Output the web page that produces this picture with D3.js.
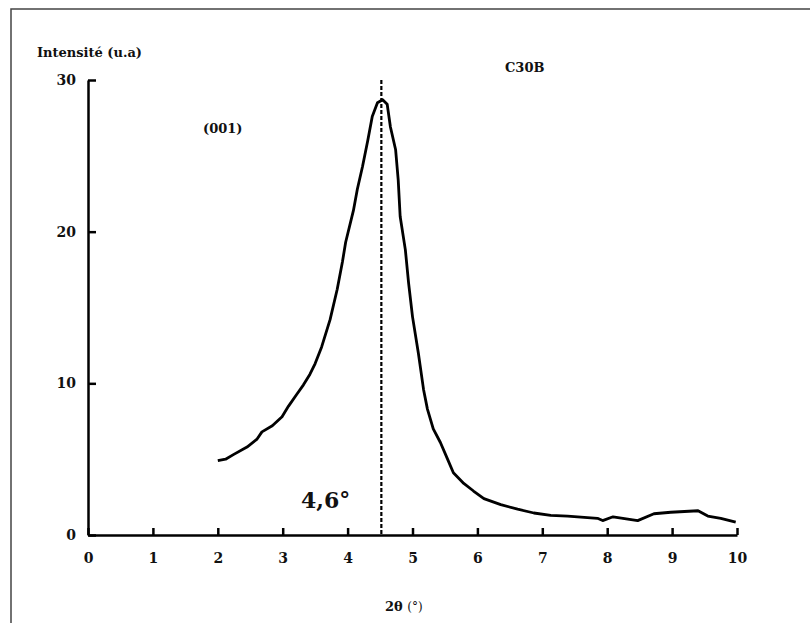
<!DOCTYPE html>
<html>
<head>
<meta charset="utf-8">
<script src="https://cdn.jsdelivr.net/npm/d3@7"></script>
<style>
  body { margin: 0; background: #fff; }
  svg { display: block; }
</style>
</head>
<body>
<svg id="chart" width="810" height="623"></svg>
<script>
// Values (2θ in degrees, intensity in u.a)
const twoTheta = [2.0, 2.12, 2.24, 2.45, 2.6, 2.68, 2.84, 2.99, 3.09, 3.22, 3.32, 3.42, 3.5, 3.6, 3.73, 3.84, 3.92, 3.97, 4.09, 4.15, 4.23, 4.31, 4.38, 4.46, 4.54, 4.61, 4.66, 4.74, 4.78, 4.81, 4.89, 4.94, 5.0, 5.09, 5.17, 5.23, 5.32, 5.43, 5.54, 5.63, 5.79, 5.94, 6.1, 6.36, 6.62, 6.87, 7.13, 7.39, 7.85, 7.93, 8.09, 8.47, 8.72, 8.98, 9.4, 9.55, 9.75, 9.98];
const intensity = [4.9, 5.0, 5.3, 5.8, 6.3, 6.8, 7.2, 7.8, 8.5, 9.3, 9.9, 10.6, 11.3, 12.4, 14.2, 16.2, 18.0, 19.3, 21.4, 22.8, 24.3, 26.0, 27.6, 28.5, 28.7, 28.4, 26.9, 25.4, 23.4, 21.0, 18.8, 16.6, 14.4, 12.0, 9.6, 8.3, 7.0, 6.1, 5.0, 4.1, 3.4, 2.9, 2.4, 2.0, 1.7, 1.45, 1.3, 1.25, 1.1, 0.95, 1.2, 0.95, 1.4, 1.5, 1.6, 1.25, 1.1, 0.85];
const xTicks = [0, 1, 2, 3, 4, 5, 6, 7, 8, 9, 10];
const yTicks = [0, 10, 20, 30];
const peakPos = 4.52;
const peakLabel = "4,6°";

// only DejaVu Serif resolves to a serif face here
const serif = "DejaVu Serif";

const svg = d3.select("#chart");

// outer frame of the figure
svg.append("rect")
  .attr("x", 11).attr("y", 9)
  .attr("width", 900).attr("height", 700)
  .attr("fill", "none").attr("stroke", "#444").attr("stroke-width", 1.5);

const x = d3.scaleLinear().domain([0, 10]).range([88, 737]);
const y = d3.scaleLinear().domain([0, 30]).range([535, 80]);

// x axis, ticks pointing up
const xAxis = svg.append("g")
  .attr("transform", `translate(0,${y(0)})`)
  .call(d3.axisBottom(x).tickValues(xTicks).tickSizeInner(-7).tickSizeOuter(0).tickPadding(18));
xAxis.attr("font-family", serif).attr("font-size", 14).attr("font-weight", "bold");
xAxis.select(".domain").attr("stroke", "#000").attr("stroke-width", 2.5);
xAxis.selectAll(".tick line").attr("stroke", "#000").attr("stroke-width", 2.5);
xAxis.selectAll(".tick text").attr("fill", "#111");

// y axis, ticks pointing right
const yAxis = svg.append("g")
  .attr("transform", `translate(${x(0)},0)`)
  .call(d3.axisLeft(y).tickValues(yTicks).tickSizeInner(-8).tickSizeOuter(0).tickPadding(12));
yAxis.attr("font-family", serif).attr("font-size", 14).attr("font-weight", "bold");
yAxis.select(".domain").attr("stroke", "#000").attr("stroke-width", 2.5);
yAxis.selectAll(".tick line").attr("stroke", "#000").attr("stroke-width", 2.5);
yAxis.selectAll(".tick text").attr("fill", "#111");

// peak marker
svg.append("line")
  .attr("x1", x(peakPos)).attr("x2", x(peakPos))
  .attr("y1", y(30)).attr("y2", y(0))
  .attr("stroke", "#000").attr("stroke-width", 2.2)
  .attr("stroke-dasharray", "4,2");

// diffraction curve
const points = twoTheta.map((t, i) => [t, intensity[i]]);
svg.append("path")
  .datum(points)
  .attr("fill", "none")
  .attr("stroke", "#000")
  .attr("stroke-width", 2.8)
  .attr("stroke-linejoin", "round")
  .attr("d", d3.line().x(d => x(d[0])).y(d => y(d[1])));

// labels
function label(tx, ty, size, weight, str) {
  return svg.append("text").attr("x", tx).attr("y", ty)
    .attr("font-family", serif).attr("font-size", size).attr("font-weight", weight)
    .attr("fill", "#111").text(str);
}
label(37, 57, 13, "bold", "Intensité (u.a)");
label(505, 72, 13, "bold", "C30B");
label(203, 133, 13, "bold", "(001)");
label(301, 508, 22, "bold", peakLabel);

const xl = label(385, 611, 13, "normal", null);
xl.append("tspan").attr("font-weight", "bold").text("2θ ");
xl.append("tspan").attr("font-size", 12).text("(°)");
</script>
</body>
</html>
